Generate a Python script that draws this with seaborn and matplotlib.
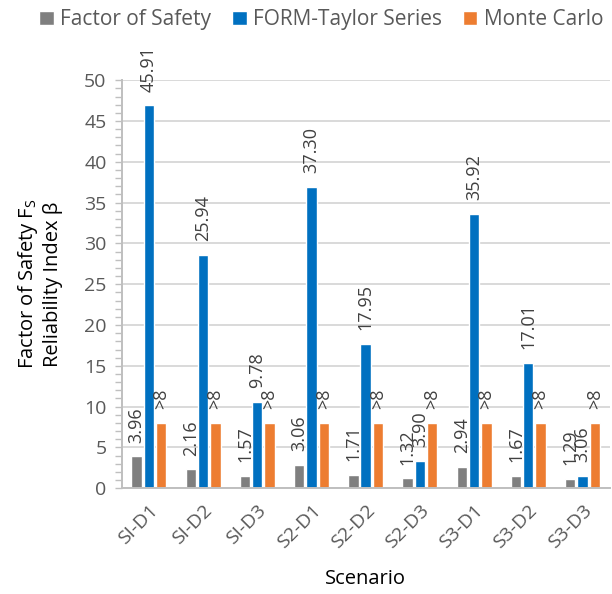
import matplotlib
matplotlib.use("Agg")
import matplotlib.pyplot as plt
import seaborn as sns
import pandas as pd
from matplotlib.ticker import MultipleLocator

scenarios = ["SI-D1", "SI-D2", "SI-D3", "S2-D1", "S2-D2", "S2-D3", "S3-D1", "S3-D2", "S3-D3"]
series = ["Factor of Safety", "FORM-Taylor Series", "Monte Carlo"]
fs_heights = [3.9, 2.3, 1.5, 2.9, 1.6, 1.2, 2.6, 1.5, 1.1]
form_heights = [46.9, 28.6, 10.6, 36.9, 17.7, 3.4, 33.6, 15.4, 1.5]
mc_heights = [8, 8, 8, 8, 8, 8, 8, 8, 8]
fs_labels = ["3.96", "2.16", "1.57", "3.06", "1.71", "1.32", "2.94", "1.67", "1.29"]
form_labels = ["45.91", "25.94", "9.78", "37.30", "17.95", "3.90", "35.92", "17.01", "3.06"]
mc_labels = [">8"] * 9
colors = ["#7f7f7f", "#0070c0", "#ed7d31"]

rows = []
for s, h in zip(series, [fs_heights, form_heights, mc_heights]):
    for sc, v in zip(scenarios, h):
        rows.append({"Scenario": sc, "Method": s, "Value": v})
df = pd.DataFrame(rows)

sns.set_style("white")
plt.rcParams["font.family"] = ["Open Sans", "DejaVu Sans"]

fig = plt.figure(figsize=(6.12, 5.94), dpi=100)
ax = fig.add_axes([0.199, 0.178, 0.797, 0.687])

sns.barplot(data=df, x="Scenario", y="Value", hue="Method", hue_order=series,
            order=scenarios, palette=colors, width=0.68, gap=0.15,
            saturation=1, ax=ax, legend=True)

ax.set_ylim(0, 50)
ax.set_xlim(-0.5, len(scenarios) - 0.5)
ax.yaxis.set_major_locator(MultipleLocator(5))
ax.yaxis.set_minor_locator(MultipleLocator(1))
ax.grid(axis="y", which="major", color="#d9d9d9", linewidth=1.4)
ax.set_axisbelow(True)
for side in ["top", "right"]:
    ax.spines[side].set_visible(False)
for side in ["left", "bottom"]:
    ax.spines[side].set_color("#bfbfbf")
    ax.spines[side].set_linewidth(1.4)
ax.tick_params(axis="y", which="both", direction="out", left=True, length=5,
               color="#bfbfbf", width=1, labelsize=14, labelcolor="#595959", pad=6)
ax.tick_params(axis="x", bottom=False, labelsize=14, labelcolor="#595959", pad=6)
plt.setp(ax.get_xticklabels(), rotation=45, ha="right", rotation_mode="anchor")

ax.set_xlabel("Scenario", fontsize=14.5, color="black", labelpad=12)
ax.set_ylabel("Factor of Safety F$_\\mathregular{S}$\nReliability Index β", fontsize=14.5,
              color="black", labelpad=15)

all_labels = [fs_labels, form_labels, mc_labels]
for cont, labs in zip(ax.containers, all_labels):
    for bar, lab in zip(cont, labs):
        x = bar.get_x() + bar.get_width() / 2
        y = bar.get_height()
        ax.annotate(lab, (x, y), xytext=(0, 10), textcoords="offset points",
                    rotation=90, ha="center", va="bottom", fontsize=13,
                    color="#404040", annotation_clip=False)

handles, labels = ax.get_legend_handles_labels()
ax.legend_.remove()
fig.legend(handles, labels, loc="center", bbox_to_anchor=(0.525, 0.967), ncol=3,
           frameon=False, fontsize=15, handlelength=0.7, handleheight=0.7,
           handletextpad=0.3, columnspacing=1.0, labelcolor="#595959")

fig.savefig("out.png", dpi=100)
